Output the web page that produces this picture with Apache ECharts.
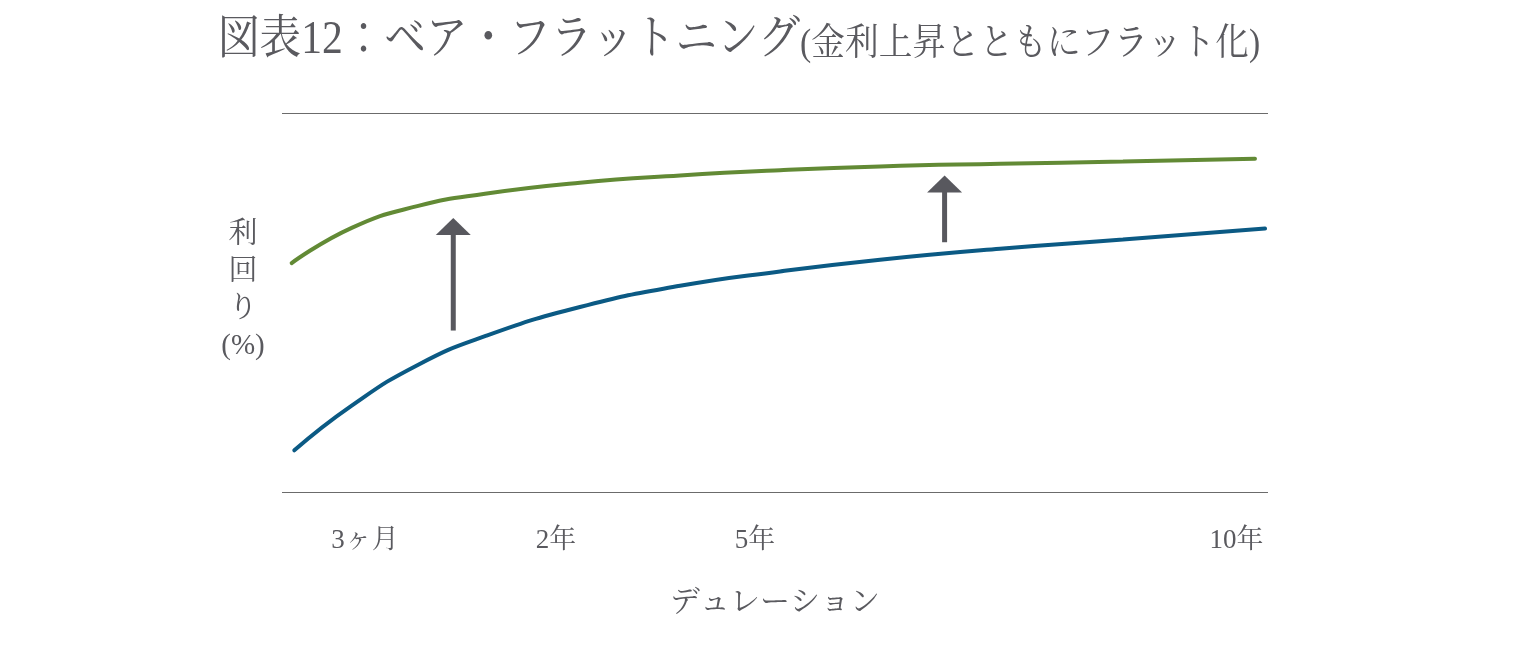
<!DOCTYPE html>
<html>
<head>
<meta charset="utf-8">
<script src="https://cdn.jsdelivr.net/npm/echarts@6/dist/echarts.min.js"></script>
<style>
  html, body { margin: 0; padding: 0; background: #fff; }
  #chart { width: 1538px; height: 654px; }
</style>
</head>
<body>
<div id="chart"></div>
<script>
// schematic chart: x and y in relative units (0-100), no real scale
var greenX = [0.98, 7.07, 13.82, 20.59, 30.22, 40.37, 50.51, 60.65, 72.82, 85.29, 98.68];
var greenY = [60.4, 69.7, 75.5, 78.7, 81.6, 83.5, 84.9, 85.9, 86.6, 87.2, 87.9];
var blueX = [1.25, 7.07, 13.82, 20.59, 30.22, 40.37, 50.51, 60.65, 72.82, 85.29, 99.7];
var blueY = [11.0, 22.8, 33.6, 41.1, 48.8, 54.4, 58.2, 61.3, 64.2, 66.6, 69.5];

var tickPos = [8.42, 27.79, 47.97, 96.81];
var tickLabels = ['3ヶ月', '2年', '5年', '10年'];

// arrows: x, from, to
var arrowX = [17.37, 67.2];
var arrowFrom = [42.6, 65.9];
var arrowTo = [72.3, 83.5];

var textColor = '#5a5a5f';
var fontFam = "'Liberation Serif', 'Noto Serif CJK JP', 'Noto Sans CJK JP', serif";

function zip(a, b) {
	var out = [];
	for (var i = 0; i < a.length; i++) out.push([a[i], b[i]]);
	return out;
}

var arrowData = [];
for (var i = 0; i < arrowX.length; i++) {
	arrowData.push([arrowX[i], arrowFrom[i], arrowTo[i]]);
}

function renderArrow(params, api) {
	var p0 = api.coord([api.value(0), api.value(1)]);
	var p1 = api.coord([api.value(0), api.value(2)]);
	var head = 17, half = 17.5;
	return {
		type: 'group',
		children: [
			{
				type: 'rect',
				shape: { x: p0[0] - 2.5, y: p1[1] + head - 1, width: 5, height: p0[1] - p1[1] - head + 1 },
				style: { fill: '#58585e' }
			},
			{
				type: 'polygon',
				shape: { points: [[p1[0] - half, p1[1] + head], [p1[0] + half, p1[1] + head], [p1[0], p1[1]]] },
				style: { fill: '#58585e' }
			}
		]
	};
}

var option = {
	animation: false,
	backgroundColor: '#fff',
	textStyle: { fontFamily: fontFam },
	graphic: [
		{
			type: 'text',
			x: 218,
			y: 18,
			scaleX: 0.99,
			scaleY: 1.1,
			style: {
				text: '{a|図表12：ベア・フラットニング}{b|(金利上昇とともにフラット化)}',
				fill: textColor,
				rich: {
					a: { fontSize: 42, fontFamily: fontFam, fill: textColor },
					b: { fontSize: 34, fontFamily: fontFam, fill: textColor, verticalAlign: 'bottom' }
				}
			}
		},
		{
			// y axis title, stacked vertically
			type: 'text',
			x: 243,
			y: 291,
			style: {
				text: '利\n回\nり\n(%)',
				fontSize: 29,
				lineHeight: 37,
				fontFamily: fontFam,
				fill: textColor,
				align: 'center',
				verticalAlign: 'middle'
			}
		}
	],
	grid: { left: 282, right: 270, top: 113, bottom: 162 },
	xAxis: {
		type: 'value',
		min: 0,
		max: 100,
		axisLine: { show: false },
		axisTick: { show: false },
		splitLine: { show: false },
		axisLabel: {
			customValues: tickPos,
			margin: 35,
			fontSize: 27,
			color: textColor,
			fontFamily: fontFam,
			formatter: function (v) {
				var idx = tickPos.indexOf(v);
				return idx >= 0 ? tickLabels[idx] : '';
			}
		},
		name: 'デュレーション',
		nameLocation: 'middle',
		nameGap: 96,
		nameTextStyle: { fontSize: 30, color: textColor, fontFamily: fontFam }
	},
	yAxis: {
		type: 'value',
		min: 0,
		max: 100,
		interval: 100,
		axisLine: { show: false },
		axisTick: { show: false },
		axisLabel: { show: false },
		splitLine: { show: true, lineStyle: { color: '#6b6b6b', width: 1 } }
	},
	series: [
		{
			name: '上昇後',
			type: 'line',
			data: zip(greenX, greenY),
			smooth: 0.5,
			symbol: 'none',
			lineStyle: { color: '#628a35', width: 4, cap: 'round' }
		},
		{
			name: '上昇前',
			type: 'line',
			data: zip(blueX, blueY),
			smooth: 0.5,
			symbol: 'none',
			lineStyle: { color: '#0b5a84', width: 4, cap: 'round' }
		},
		{
			name: '矢印',
			type: 'custom',
			renderItem: renderArrow,
			encode: { x: 0, y: [1, 2] },
			data: arrowData,
			z: 5
		}
	]
};

var chart = echarts.init(document.getElementById('chart'));
chart.setOption(option);
</script>
</body>
</html>
